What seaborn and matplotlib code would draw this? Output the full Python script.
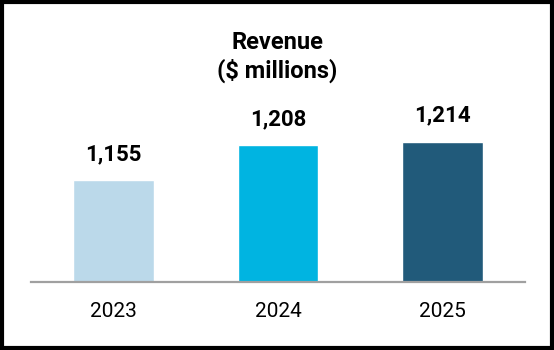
import seaborn as sns
from matplotlib import pyplot as plt
from matplotlib.patches import Rectangle

# revenue by year, $ millions
years = ["2023", "2024", "2025"]
revenue = [1155, 1208, 1214]
bar_colors = ["#BBD9EA", "#00B4E1", "#215A7A"]

sns.set_style("white")
plt.rcParams['font.family'] = ['Roboto', 'DejaVu Sans']
plt.rcParams['text.color'] = 'black'
plt.rcParams['xtick.color'] = 'black'

fig = plt.figure(figsize=(5.54, 3.5), dpi=100)
ax = fig.add_axes([0.056, 0.194, 0.892, 0.563])

sns.barplot(x=years, y=revenue, hue=years, palette=bar_colors,
            width=0.49, legend=False, saturation=1, ax=ax)

ax.set_xlim(-0.5, 2.5)
ax.set_ylim(1000, 1300)

for c in ax.containers:
    ax.bar_label(c, labels=["{:,.0f}".format(v) for v in c.datavalues],
                 padding=11, fontsize=16, fontweight='bold', color='black')

for s in ["top", "left", "right"]:
    ax.spines[s].set_visible(False)
ax.spines["bottom"].set_color("#A0A0A0")
ax.spines["bottom"].set_linewidth(1.6)
ax.set_yticks([])
ax.tick_params(axis='x', length=0, pad=14, labelsize=15, labelcolor='black')
ax.set_xlabel("")
ax.set_ylabel("")

fig.text(0.5, 0.838, "Revenue\n($ millions)", ha='center', va='center',
         fontsize=17, fontweight='bold', linespacing=1.25, color='black')

# black frame round the whole figure
fig.patches.append(Rectangle((2 / 554, 2 / 350), 1 - 4 / 554, 1 - 4 / 350,
                             transform=fig.transFigure, fill=False,
                             edgecolor='black', linewidth=3))

plt.savefig("out.png", dpi=100)
